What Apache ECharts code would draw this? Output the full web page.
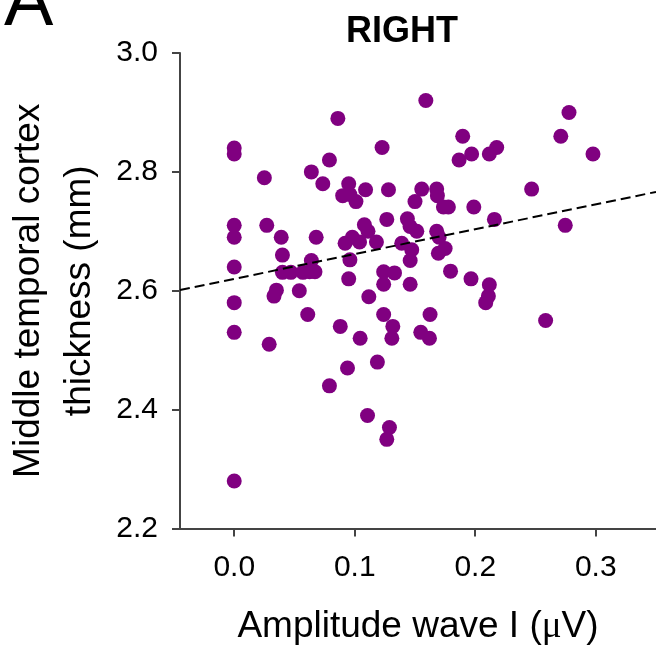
<!DOCTYPE html>
<html>
<head>
<meta charset="utf-8">
<script src="https://cdn.jsdelivr.net/npm/echarts@6/dist/echarts.min.js"></script>
<style>html,body{margin:0;padding:0;background:#fff;}#c{width:656px;height:646px;}</style>
</head>
<body>
<div id="c"></div>
<script>
// Amplitude wave I (µV)
const ampX = [
  0, 0, 0, 0, 0, 0, 0, 0,
  0.025, 0.027, 0.039, 0.040, 0.040, 0.047, 0.057, 0.035, 0.033, 0.054, 0.061, 0.029,
  0.064, 0.068, 0.064, 0.0625, 0.067, 0.0735, 0.079, 0.086, 0.079, 0.088,
  0.094, 0.095, 0.090, 0.096, 0.101, 0.109, 0.092, 0.098, 0.104, 0.108,
  0.111, 0.096, 0.095, 0.1045, 0.1117, 0.1106, 0.118, 0.1188, 0.1227, 0.128,
  0.1266, 0.124, 0.133, 0.124, 0.124, 0.1316, 0.1308, 0.1288, 0.1266, 0.139,
  0.1437, 0.1459, 0.1473, 0.146, 0.146, 0.150, 0.1515, 0.1556, 0.159, 0.168,
  0.1686, 0.1736, 0.1777, 0.168, 0.170, 0.175, 0.1694, 0.1795, 0.1625, 0.1548,
  0.162, 0.1866, 0.1896, 0.197, 0.2117, 0.2178, 0.1988, 0.2159, 0.1965, 0.2117,
  0.2109, 0.2087, 0.2468, 0.2584, 0.2747, 0.271, 0.2778, 0.2977
];
// Middle temporal cortex thickness (mm)
const thickY = [
  2.84, 2.83, 2.71, 2.69, 2.64, 2.58, 2.53, 2.28,
  2.79, 2.71, 2.69, 2.66, 2.631, 2.631, 2.631, 2.601, 2.591, 2.60, 2.56, 2.51,
  2.80, 2.69, 2.651, 2.632, 2.632, 2.78, 2.82, 2.89, 2.44, 2.54,
  2.47, 2.78, 2.76, 2.762, 2.75, 2.77, 2.68, 2.69, 2.682, 2.711,
  2.70, 2.652, 2.62, 2.52, 2.59, 2.39, 2.682, 2.48, 2.841, 2.77,
  2.72, 2.632, 2.63, 2.611, 2.56, 2.54, 2.52, 2.37, 2.35, 2.68,
  2.721, 2.708, 2.669, 2.651, 2.611, 2.75, 2.70, 2.771, 2.92, 2.771,
  2.76, 2.741, 2.741, 2.70, 2.69, 2.671, 2.663, 2.633, 2.56, 2.53,
  2.52, 2.82, 2.86, 2.83, 2.83, 2.841, 2.741, 2.72, 2.62, 2.61,
  2.591, 2.58, 2.771, 2.55, 2.71, 2.86, 2.90, 2.83
];
// Linear fit
const fitIntercept = 2.620;
const fitSlope = 0.418;
const xTicks = [0.0, 0.1, 0.2, 0.3];
const yTicks = [2.2, 2.4, 2.6, 2.8, 3.0];
const xMin = -0.045, xMax = 0.35;
const yMin = 2.2, yMax = 3.0;

const points = ampX.map((x, i) => [x, thickY[i]]);
const fitLine = [xMin, xMax].map(x => [x, fitIntercept + fitSlope * x]);

const FONT = "'Liberation Sans', Arial, sans-serif";
const chart = echarts.init(document.getElementById('c'), null, {renderer: 'canvas'});
chart.setOption({
  animation: false,
  backgroundColor: '#fff',
  title: {
    text: 'RIGHT',
    left: 341, top: 9,
    textStyle: {fontFamily: FONT, fontSize: 36, fontWeight: 'bold', color: '#000'}
  },
  graphic: [{
    type: 'text', left: 4, top: -32,
    style: {text: 'A', fontFamily: FONT, fontSize: 74, fill: '#000'}
  }],
  grid: {left: 180, right: 0, top: 53, bottom: 117.5, outerBoundsMode: 'none', containLabel: false},
  xAxis: {
    type: 'value', min: xMin, max: xMax,
    name: 'Amplitude wave I ({mu|μ}V)', nameLocation: 'middle', nameGap: 80,
    nameTextStyle: {fontFamily: FONT, fontSize: 37, color: '#000',
      rich: {mu: {fontFamily: "'Liberation Serif', 'DejaVu Serif', serif", fontSize: 37, color: '#000'}}},
    splitLine: {show: false},
    axisLine: {show: true, onZero: false, lineStyle: {color: '#444', width: 2}},
    axisTick: {show: true, inside: false, length: 8, customValues: xTicks, lineStyle: {color: '#444', width: 2}},
    axisLabel: {customValues: xTicks, margin: 24, fontFamily: FONT, fontSize: 30, color: '#000',
      formatter: v => v.toFixed(1)}
  },
  yAxis: {
    type: 'value', min: yMin, max: yMax, interval: 0.2,
    name: 'Middle temporal cortex\nthickness (mm)', nameLocation: 'middle', nameGap: 75,
    nameTextStyle: {fontFamily: FONT, fontSize: 37, color: '#000', lineHeight: 51},
    splitLine: {show: false},
    axisLine: {show: true, onZero: false, lineStyle: {color: '#444', width: 2}},
    axisTick: {show: true, inside: false, length: 8, customValues: yTicks, lineStyle: {color: '#444', width: 2}},
    axisLabel: {customValues: yTicks, margin: 22, fontFamily: FONT, fontSize: 30, color: '#000',
      formatter: v => v.toFixed(1)}
  },
  series: [
    {
      type: 'line', data: fitLine, symbol: 'none', silent: true, z: 3,
      lineStyle: {color: '#000', width: 2, type: [10, 5]}
    },
    {
      type: 'scatter', data: points, symbol: 'circle', symbolSize: 15, z: 2,
      itemStyle: {color: '#800080', opacity: 1}
    }
  ]
});
</script>
</body>
</html>
